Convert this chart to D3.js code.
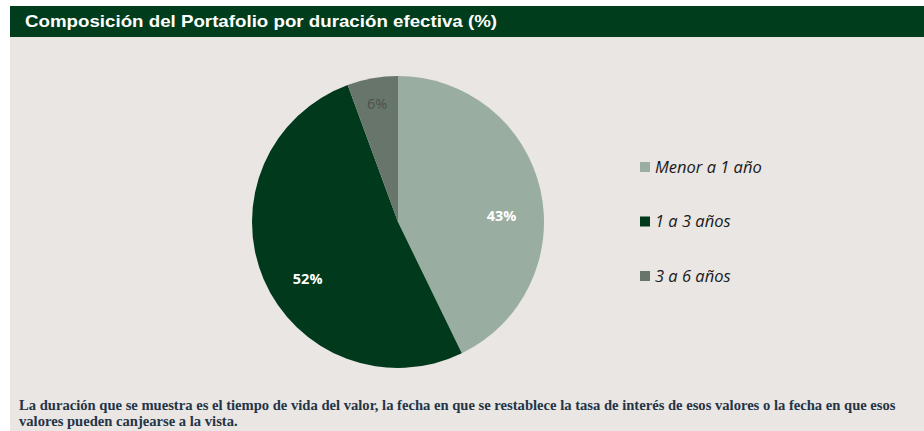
<!DOCTYPE html>
<html lang="es">
<head>
    <meta charset="UTF-8">
    <title>Composición del Portafolio por duración efectiva</title>
    <script src="https://d3js.org/d3.v7.min.js"></script>
    <style>
        body { margin: 0; background: #ffffff; }
        svg { display: block; }
    </style>
</head>
<body>
    <svg width="924" height="431"></svg>

    <script>
        const categories = ["Menor a 1 año", "1 a 3 años", "3 a 6 años"];
        const values = [42.8, 51.6, 5.6];
        const labels = ["43%", "52%", "6%"];
        const colors = ["#9aada1", "#00391c", "#68756b"];

        const width = 924;
        const height = 431;
        const svg = d3.select("svg");

        // panel background and title bar
        svg.append("rect")
            .attr("x", 10).attr("y", 6)
            .attr("width", width - 10).attr("height", height - 6)
            .attr("fill", "#e9e6e3");

        svg.append("rect")
            .attr("x", 10).attr("y", 6)
            .attr("width", width - 10).attr("height", 31)
            .attr("fill", "#003d1c");

        svg.append("text")
            .attr("x", 25).attr("y", 27)
            .attr("font-family", "Liberation Sans, Arial, sans-serif")
            .attr("font-weight", "bold")
            .attr("font-size", "17px")
            .attr("textLength", 472)
            .attr("lengthAdjust", "spacingAndGlyphs")
            .attr("fill", "#ffffff")
            .text("Composición del Portafolio por duración efectiva (%)");

        // pie
        const cx = 398, cy = 222, r = 146;
        const pie = d3.pie().sort(null).value(d => d);
        const arcs = pie(values);
        const arc = d3.arc().innerRadius(0).outerRadius(r);

        const g = svg.append("g").attr("transform", `translate(${cx},${cy})`);

        g.selectAll("path")
            .data(arcs)
            .join("path")
            .attr("d", arc)
            .attr("fill", (d, i) => colors[i]);

        // label placement: radius factor and angular nudge (radians) per slice
        const labelRadius = [0.71, 0.73, 0.82];
        const labelShift = [0.17, -0.157, 0];
        const labelPos = (d, i) => {
            const a = (d.startAngle + d.endAngle) / 2 + labelShift[i];
            const rr = r * labelRadius[i];
            return [Math.sin(a) * rr, -Math.cos(a) * rr];
        };

        g.selectAll("text.lbl")
            .data(arcs)
            .join("text")
            .attr("class", "lbl")
            .attr("transform", (d, i) => `translate(${labelPos(d, i)})`)
            .attr("text-anchor", "middle")
            .attr("dy", "0.36em")
            .attr("font-family", "Open Sans, Noto Sans, sans-serif")
            .attr("font-size", "14.5px")
            .attr("font-weight", (d, i) => i < 2 ? "bold" : "normal")
            .attr("fill", (d, i) => i < 2 ? "#ffffff" : "#4a524c")
            .text((d, i) => labels[i]);

        // legend
        const legend = svg.append("g").attr("transform", "translate(640,167)");
        const items = legend.selectAll("g")
            .data(categories)
            .join("g")
            .attr("transform", (d, i) => `translate(0,${i * 54.5})`);

        items.append("rect")
            .attr("x", 0).attr("y", -5)
            .attr("width", 10).attr("height", 10)
            .attr("fill", (d, i) => colors[i]);

        items.append("text")
            .attr("x", 15).attr("dy", "0.36em")
            .attr("font-family", "Open Sans, Noto Sans, sans-serif")
            .attr("font-style", "italic")
            .attr("font-size", "16.5px")
            .attr("fill", "#1a1a1a")
            .text(d => d);

        // footnote
        const note = [
            "La duración que se muestra es el tiempo de vida del valor, la fecha en que se restablece la tasa de interés de esos valores o la fecha en que esos",
            "valores pueden canjearse a la vista."
        ];
        svg.append("g").selectAll("text")
            .data(note)
            .join("text")
            .attr("x", 19)
            .attr("y", (d, i) => 410 + i * 15.5)
            .attr("font-family", "Liberation Serif, Times New Roman, serif")
            .attr("font-weight", "bold")
            .attr("font-size", "14.6px")
            .attr("fill", "#243447")
            .text(d => d);
    </script>
</body>
</html>
